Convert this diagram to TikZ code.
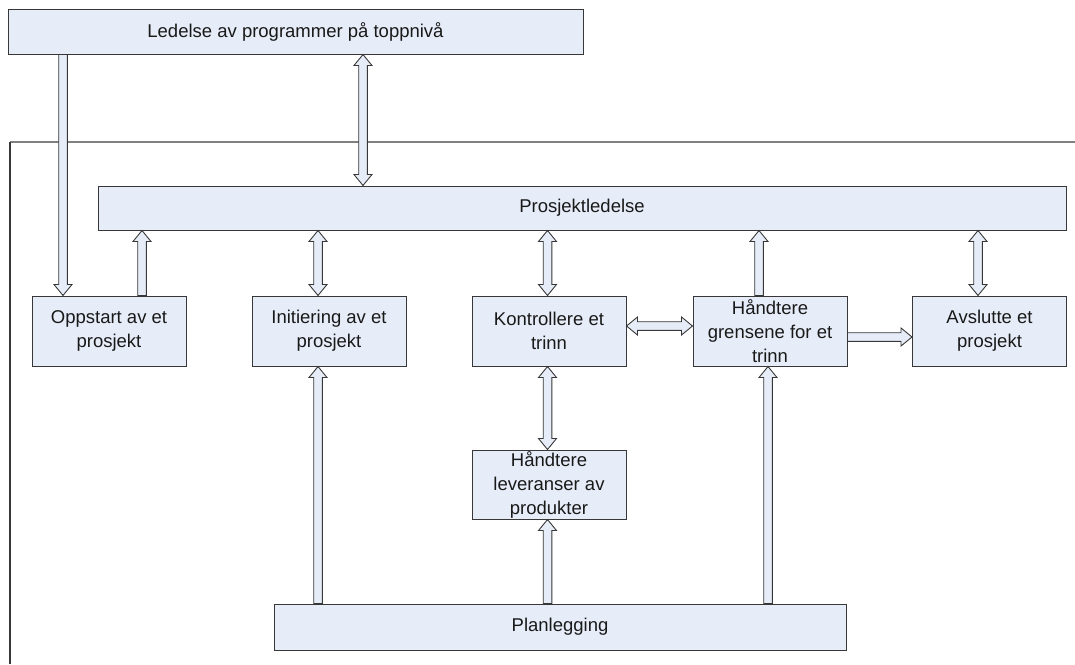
\documentclass[tikz,border=0pt]{standalone}
\usepackage{fontspec}
\setmainfont{Liberation Sans}
\usetikzlibrary{calc}

\definecolor{boxfill}{RGB}{231,237,248}
\definecolor{boxline}{RGB}{55,55,55}
\definecolor{frameline}{RGB}{128,128,128}
\definecolor{inkcol}{RGB}{25,25,25}

% half shaft width, half head width, head length of the block arrows
\newcommand\shaftw{4.3pt}
\newcommand\headw{9pt}
\newcommand\headl{11pt}

% hollow block arrow with a head at the end point
\newcommand\onearrow[2]{%
  \coordinate (arS) at (#1);
  \coordinate (arE) at (#2);
  \coordinate (arB) at ($(arE)!\headl!(arS)$);
  \filldraw[blockarrow]
    ($(arS)!\shaftw!90:(arE)$) --
    ($(arB)!\shaftw!90:(arE)$) --
    ($(arB)!\headw!90:(arE)$) --
    (arE) --
    ($(arB)!\headw!-90:(arE)$) --
    ($(arB)!\shaftw!-90:(arE)$) --
    ($(arS)!\shaftw!-90:(arE)$) -- cycle;
}

% hollow block arrow with heads at both ends
\newcommand\twoarrow[2]{%
  \coordinate (arS) at (#1);
  \coordinate (arE) at (#2);
  \coordinate (arA) at ($(arS)!\headl!(arE)$);
  \coordinate (arB) at ($(arE)!\headl!(arS)$);
  \filldraw[blockarrow]
    (arS) --
    ($(arA)!\headw!90:(arE)$) --
    ($(arA)!\shaftw!90:(arE)$) --
    ($(arB)!\shaftw!90:(arE)$) --
    ($(arB)!\headw!90:(arE)$) --
    (arE) --
    ($(arB)!\headw!-90:(arE)$) --
    ($(arB)!\shaftw!-90:(arE)$) --
    ($(arA)!\shaftw!-90:(arE)$) --
    ($(arA)!\headw!-90:(arE)$) -- cycle;
}

\tikzset{
  procbox/.style={draw=boxline, fill=boxfill, line width=1pt, inner sep=0pt,
    text=inkcol, align=center,
    font=\fontsize{18.5}{24}\selectfont},
  blockarrow/.style={draw=boxline, fill=boxfill, line width=0.9pt, line join=miter},
}

\begin{document}
\begin{tikzpicture}[x=1pt, y=-1pt]
  \useasboundingbox (0,0) rectangle (1075,664);

  % frame of the project level
  \draw[frameline, line width=1.5pt] (1075,142) -- (10,142);
  \draw[boxline, line width=1.5pt] (10,142) -- (10,664);

  % boxes
  \node[procbox, minimum width=575pt, minimum height=45pt] (top) at (295.5,31.5)
    {Ledelse av programmer på toppnivå};
  \node[procbox, minimum width=968pt, minimum height=44pt] (pl) at (582,208)
    {Prosjektledelse};

  \node[procbox, minimum width=154pt, minimum height=70pt] (opp) at (109,331)
    {Oppstart av et\\prosjekt};
  \node[procbox, minimum width=154pt, minimum height=70pt] (ini) at (329,331)
    {Initiering av et\\prosjekt};
  \node[procbox, minimum width=154pt, minimum height=70pt] (kon) at (549,331)
    {Kontrollere et\\trinn};
  \node[procbox, minimum width=154pt, minimum height=70pt] (gre) at (770,331)
    {Håndtere\\grensene for et\\trinn};
  \node[procbox, minimum width=154pt, minimum height=70pt] (avs) at (989.5,331)
    {Avslutte et\\prosjekt};

  \node[procbox, minimum width=154pt, minimum height=69pt] (lev) at (549,484.5)
    {Håndtere\\leveranser av\\produkter};
  \node[procbox, minimum width=572pt, minimum height=46pt] (plan) at (560,627)
    {Planlegging};

  % positions of the vertical connectors
  \coordinate (xa) at (63,0);
  \coordinate (xb) at (363,0);
  \coordinate (xc) at (142,0);
  \coordinate (xd) at (318,0);
  \coordinate (xe) at (547.5,0);
  \coordinate (xf) at (759,0);
  \coordinate (xg) at (978,0);
  \coordinate (xh) at (768,0);
  % heights of the horizontal connectors
  \coordinate (ya) at (0,326);
  \coordinate (yb) at (0,337);

  % connectors
  \onearrow{top.south -| xa}{opp.north -| xa}
  \twoarrow{top.south -| xb}{pl.north -| xb}
  \onearrow{opp.north -| xc}{pl.south -| xc}
  \twoarrow{ini.north -| xd}{pl.south -| xd}
  \twoarrow{kon.north -| xe}{pl.south -| xe}
  \onearrow{gre.north -| xf}{pl.south -| xf}
  \twoarrow{avs.north -| xg}{pl.south -| xg}
  \twoarrow{kon.east |- ya}{gre.west |- ya}
  \onearrow{gre.east |- yb}{avs.west |- yb}
  \twoarrow{kon.south -| xe}{lev.north -| xe}
  \onearrow{plan.north -| xe}{lev.south -| xe}
  \onearrow{plan.north -| xd}{ini.south -| xd}
  \onearrow{plan.north -| xh}{gre.south -| xh}
\end{tikzpicture}
\end{document}
